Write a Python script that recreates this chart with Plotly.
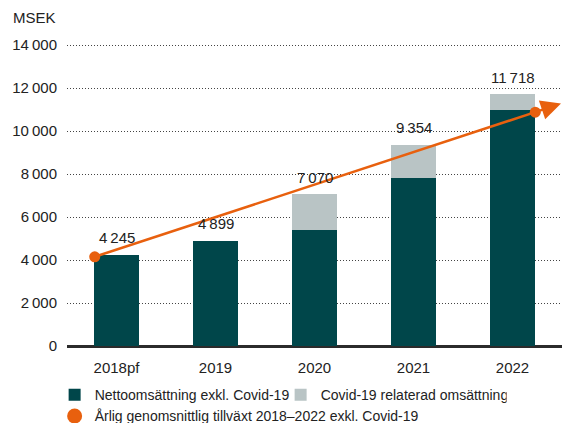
import plotly.graph_objects as go

# Net sales, MSEK
years = ["2018pf", "2019", "2020", "2021", "2022"]
net_excl_covid = [4245, 4899, 5420, 7800, 11000]
covid_related = [0, 0, 1650, 1554, 718]

# Average annual growth line (excl. Covid-19): start, end and arrow tip
trend_x = [-0.22, 4.23, 4.49]
trend_y = [4150, 10880, 11280]

y_ticks = [0, 2000, 4000, 6000, 8000, 10000, 12000, 14000]

DARK = "#00464A"
GREY = "#B9C4C5"
ORANGE = "#E8600E"
TEXT = "#222222"
FONT = "Liberation Sans"


def fmt(v):
    return f"{v:,}".replace(",", "\u202f")


x_pos = list(range(len(years)))
totals = [a + b for a, b in zip(net_excl_covid, covid_related)]

fig = go.Figure()
fig.add_trace(go.Bar(
    x=x_pos, y=net_excl_covid, name="Nettoomsättning exkl. Covid-19",
    marker=dict(color=DARK, line=dict(width=0)), width=0.455,
))
fig.add_trace(go.Bar(
    x=x_pos, y=covid_related, name="Covid-19 relaterad omsättning",
    marker=dict(color=GREY, line=dict(width=0)), width=0.455,
))
# growth line between the start and end dots
fig.add_trace(go.Scatter(
    x=trend_x[:2], y=trend_y[:2], mode="lines+markers", showlegend=False,
    line=dict(color=ORANGE, width=2.5),
    marker=dict(color=ORANGE, symbol="circle", size=11, line=dict(width=0)),
    cliponaxis=False, hoverinfo="skip",
))
# arrow continuing past the end dot
fig.add_annotation(
    x=trend_x[2], y=trend_y[2], ax=trend_x[1], ay=trend_y[1],
    xref="x", yref="y", axref="x", ayref="y",
    showarrow=True, arrowhead=2, arrowsize=1.6, arrowwidth=2.5,
    arrowcolor=ORANGE, standoff=0, startstandoff=0, text="",
)
fig.add_trace(go.Scatter(
    x=[None], y=[None], mode="markers",
    name="Årlig genomsnittlig tillväxt 2018–2022 exkl. Covid-19",
    marker=dict(color=ORANGE, size=15, symbol="circle"),
))

for i, t in enumerate(totals):
    fig.add_annotation(
        x=i, y=t, text=fmt(t), showarrow=False, yanchor="middle", yshift=17,
        font=dict(family=FONT, size=15, color=TEXT),
    )

fig.add_annotation(
    xref="paper", yref="paper", x=0, y=1, xanchor="left", yanchor="middle",
    xshift=-56, yshift=27, text="MSEK", showarrow=False,
    font=dict(family=FONT, size=15, color=TEXT),
)

fig.update_layout(
    width=562, height=423,
    margin=dict(l=67, r=0, t=44, b=77, autoexpand=False),
    paper_bgcolor="white", plot_bgcolor="white",
    barmode="stack",
    font=dict(family=FONT, size=15, color=TEXT),
    xaxis=dict(
        range=[-0.5, 4.5], tickvals=x_pos, ticktext=years,
        showgrid=False, zeroline=False, showline=False,
        ticks="outside", ticklen=8, tickcolor="rgba(0,0,0,0)",
        tickfont=dict(family=FONT, size=15, color=TEXT),
    ),
    yaxis=dict(
        range=[0, 14050], tickvals=y_ticks, ticktext=[fmt(v) for v in y_ticks],
        showgrid=True, gridcolor="#444444", griddash="1px,2px", gridwidth=1,
        zeroline=True, zerolinecolor="#2b2b2b", zerolinewidth=2.5,
        showline=False,
        ticks="outside", ticklen=6, tickcolor="rgba(0,0,0,0)",
        tickfont=dict(family=FONT, size=15, color=TEXT),
    ),
    legend=dict(
        orientation="h", x=-0.025, xanchor="left", y=-0.11, yanchor="top",
        font=dict(family=FONT, size=14, color=TEXT),
        traceorder="normal", itemwidth=30, tracegroupgap=0,
        entrywidth=181, entrywidthmode="pixels",
        bgcolor="rgba(0,0,0,0)",
    ),
)

fig.write_html("out.html")
